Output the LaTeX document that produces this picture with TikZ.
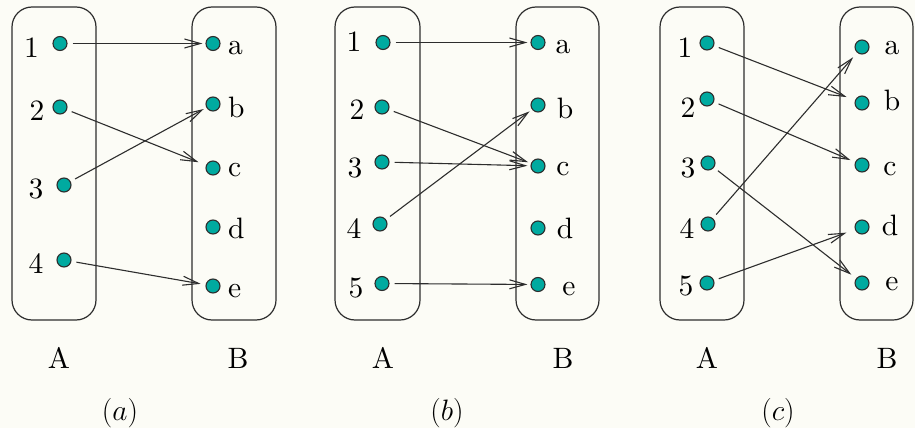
\documentclass[tikz,border=0pt]{standalone}
\usepackage{fix-cm}
\usepackage{fontspec}
\setmainfont{lmroman10-regular.otf}[ItalicFont=lmroman10-italic.otf]
\usetikzlibrary{arrows.meta}
\definecolor{dotfill}{RGB}{0,170,160}
\definecolor{bgc}{RGB}{252,252,246}
\definecolor{ln}{RGB}{45,45,45}
\begin{document}
\begin{tikzpicture}[x=1pt,y=-1pt,
  every node/.style={font=\fontsize{29.5}{34}\selectfont},
  pt/.style={circle,draw=ln,fill=dotfill,line width=1.1pt,minimum size=14pt,inner sep=0pt},
  setbox/.style={draw=ln,line width=1.2pt,rounded corners=20pt},
  lab/.style={anchor=base,inner sep=0pt},
  arr/.style={draw=ln,line width=1.1pt,-{Straight Barb[length=16pt,width=9pt]},shorten <=5pt,shorten >=3pt}]
\fill[bgc] (0,0) rectangle (915,428);
\useasboundingbox (0,0) rectangle (915,428);
% ===== panel (a)
\draw[setbox] (12,7) rectangle (96,320);
\draw[setbox] (192,7) rectangle (276,320);
\node[pt] (a1) at (60,43.5) {};
\node[pt] (a2) at (60,107) {};
\node[pt] (a3) at (64,185) {};
\node[pt] (a4) at (64,260) {};
\node[pt] (aa) at (213,43.5) {};
\node[pt] (ab) at (213,104) {};
\node[pt] (ac) at (213,168) {};
\node[pt] (ad) at (213,227) {};
\node[pt] (ae) at (213,286) {};
\node[lab] (la1) at (31.5,57) {1};
\node[lab] (la2) at (37,120) {2};
\node[lab] (la3) at (36,198) {3};
\node[lab] (la4) at (36,273) {4};
\node[lab,anchor=base west] (laa) at (228,55) {a};
\node[lab,anchor=base west] (lab) at (228,117) {b};
\node[lab,anchor=base west] (lac) at (228,176) {c};
\node[lab,anchor=base west] (lad) at (228,238) {d};
\node[lab,anchor=base west] (lae) at (228,297) {e};
\draw[arr] (a1) -- (aa);
\draw[arr,shorten >=8pt] (a2) -- (ac);
\draw[arr] (a3) -- (ab);
\draw[arr,shorten >=5pt] (a4) -- (ae);
\node[lab] (A1) at (59,368) {A};
\node[lab] (B1) at (238,368) {B};
\node[lab] (capa) at (120,420) {$(a)$};
% ===== panel (b)
\draw[setbox] (335,7) rectangle (420,320);
\draw[setbox] (516,7) rectangle (599,320);
\node[pt] (b1) at (383,42.5) {};
\node[pt] (b2) at (382,107) {};
\node[pt] (b3) at (382,162) {};
\node[pt] (b4) at (380,224) {};
\node[pt] (b5) at (382,283.5) {};
\node[pt] (ba) at (538,42.5) {};
\node[pt] (bb) at (538,105) {};
\node[pt] (bc) at (538,166) {};
\node[pt] (bd) at (538,228) {};
\node[pt] (be) at (538,284.5) {};
\node[lab] (lb1) at (354,52) {1};
\node[lab] (lb2) at (357,119) {2};
\node[lab] (lb3) at (355,177) {3};
\node[lab] (lb4) at (354,238) {4};
\node[lab] (lb5) at (356,297) {5};
\node[lab] (lba) at (563,53) {a};
\node[lab] (lbb) at (565,118) {b};
\node[lab] (lbc) at (563,175) {c};
\node[lab] (lbd) at (565,238) {d};
\node[lab] (lbe) at (569,295) {e};
\draw[arr] (b1) -- (ba);
\draw[arr] (b2) -- (bc);
\draw[arr] (b3) -- (bc);
\draw[arr] (b4) -- (bb);
\draw[arr] (b5) -- (be);
\node[lab] (A2) at (383,368) {A};
\node[lab] (B2) at (563,368) {B};
\node[lab] (capb) at (447,420) {$(b)$};
% ===== panel (c)
\draw[setbox] (660,7) rectangle (744,320);
\draw[setbox] (840,7) rectangle (913,320);
\node[pt] (c1) at (707,43) {};
\node[pt] (c2) at (707,99) {};
\node[pt] (c3) at (708,163) {};
\node[pt] (c4) at (708,224) {};
\node[pt] (c5) at (707,283) {};
\node[pt] (ca) at (862,47) {};
\node[pt] (cb) at (862,103) {};
\node[pt] (cc) at (862,165) {};
\node[pt] (cd) at (862,227) {};
\node[pt] (ce) at (862,283) {};
\node[lab] (lc1) at (685,57) {1};
\node[lab] (lc2) at (688,117) {2};
\node[lab] (lc3) at (688,177) {3};
\node[lab] (lc4) at (687,238) {4};
\node[lab] (lc5) at (686,295) {5};
\node[lab] (lca) at (892,55) {a};
\node[lab] (lcb) at (892,110) {b};
\node[lab] (lcc) at (890,175) {c};
\node[lab] (lcd) at (890,235) {d};
\node[lab] (lce) at (892,290) {e};
\draw[arr,shorten >=9pt] (c1) -- (cb);
\draw[arr,shorten >=5pt] (c2) -- (cc);
\draw[arr,shorten >=6pt] (c3) -- (ce);
\draw[arr,shorten >=6pt] (c4) -- (ca);
\draw[arr,shorten >=9pt] (c5) -- (cd);
\node[lab] (A3) at (707,368) {A};
\node[lab] (B3) at (887,368) {B};
\node[lab] (capc) at (778,420) {$(c)$};
\end{tikzpicture}
\end{document}
